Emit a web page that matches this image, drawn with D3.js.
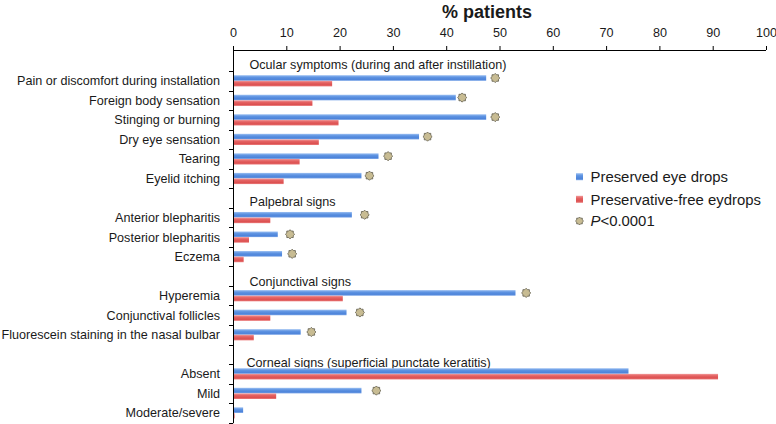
<!DOCTYPE html>
<html>
<head>
<meta charset="utf-8">
<script src="https://cdn.jsdelivr.net/npm/d3@7"></script>
<style>
  html, body { margin: 0; padding: 0; background: #fff; }
  svg { display: block; font-family: "Liberation Sans", Arial, sans-serif; }
</style>
</head>
<body>
<svg id="chart" width="776" height="424"></svg>
<script>
// ---------------- data ----------------
const categories = [
  "Ocular symptoms (during and after instillation)",
  "Pain or discomfort during installation",
  "Foreign body sensation",
  "Stinging or burning",
  "Dry eye sensation",
  "Tearing",
  "Eyelid itching",
  "Palpebral signs",
  "Anterior blepharitis",
  "Posterior blepharitis",
  "Eczema",
  "Conjunctival signs",
  "Hyperemia",
  "Conjunctival follicles",
  "Fluorescein staining in the nasal bulbar",
  "Corneal signs (superficial punctate keratitis)",
  "Absent",
  "Mild",
  "Moderate/severe"
];
const isGroupHeader = [true, false, false, false, false, false, false, true, false, false, false, true, false, false, false, true, false, false, false];
const preserved =        [null, 47.5, 41.8, 47.5, 34.9, 27.3, 24.1, null, 22.3, 8.4, 9.2, null, 53.0, 21.3, 12.7, null, 74.2, 24.1, 1.9];
const preservativeFree = [null, 18.6, 14.9, 19.8, 16.1, 12.5, 9.5,  null, 7.0,  3.0, 2.0, null, 20.6, 7.0,  3.9,  null, 91.0, 8.1,  0.3];
const pMarker =          [null, 49.2, 43.0, 49.2, 36.5, 29.1, 25.6, null, 24.7, 10.7, 11.1, null, 55.0, 23.8, 14.7, null, null, 26.9, null];
const xTicks = [0, 10, 20, 30, 40, 50, 60, 70, 80, 90, 100];
const seriesNames = ["Preserved eye drops", "Preservative-free eydrops"];
const axisTitle = "% patients";

(function () {
// ---------------- layout ----------------
const svg = d3.select("#chart");
const pLeft = 233, pRight = 766, pTop = 50, pBottom = 422.7;
const x = d3.scaleLinear().domain([0, 100]).range([pLeft, pRight]);
const y = d3.scaleBand().domain(d3.range(categories.length)).range([51.5, pBottom]).paddingInner(0).paddingOuter(0);
const textColor = "#1a1a1a";
const fs = 12.6;

// gradients
const defs = svg.append("defs");
function grad(id, stops) {
  const g = defs.append("linearGradient").attr("id", id).attr("x1", 0).attr("y1", 0).attr("x2", 0).attr("y2", 1);
  stops.forEach(s => g.append("stop").attr("offset", s[0]).attr("stop-color", s[1]));
}
grad("gBlue", [[0, "#9cc0f2"], [0.35, "#5f94e2"], [0.75, "#4d84da"], [1, "#7aa5e8"]]);
grad("gRed", [[0, "#f29a9a"], [0.35, "#e46262"], [0.75, "#dc5050"], [1, "#ec8080"]]);

// title
svg.append("text").attr("x", 487).attr("y", 18).attr("text-anchor", "middle")
  .attr("font-size", 18).attr("font-weight", "bold").attr("fill", textColor).text(axisTitle);

// top axis
const xAxis = d3.axisTop(x).tickValues(xTicks).tickSize(4).tickPadding(9).tickSizeOuter(0);
const gx = svg.append("g").attr("transform", `translate(0,${pTop})`).call(xAxis);
gx.select(".domain").attr("stroke", "#000").attr("d", `M${pLeft},0.5H${pRight}`);
gx.selectAll(".tick line").attr("stroke", "#000");
gx.selectAll(".tick text").attr("font-size", fs).attr("fill", textColor).attr("font-family", "Liberation Sans, Arial, sans-serif");

// left axis (band boundary ticks)
const gy = svg.append("g");
gy.append("line").attr("x1", pLeft + 0.5).attr("x2", pLeft + 0.5).attr("y1", pTop).attr("y2", pBottom + 0.5).attr("stroke", "#000");
const bounds = d3.range(1, categories.length + 1).map(i => y.range()[0] + i * y.step());
gy.selectAll("line.tk").data(bounds).join("line").attr("class", "tk")
  .attr("x1", pLeft - 4).attr("x2", pLeft).attr("y1", d => Math.round(d) + 0.5).attr("y2", d => Math.round(d) + 0.5).attr("stroke", "#000");

// category labels
const idx = d3.range(categories.length);
svg.append("g").selectAll("text").data(idx.filter(i => !isGroupHeader[i])).join("text")
  .attr("x", 220).attr("y", i => y(i) + y.bandwidth() / 2).attr("dy", "0.36em")
  .attr("text-anchor", "end").attr("font-size", fs).attr("fill", textColor).text(i => categories[i]);

// group headers inside plot
const headerNudge = [2.7, 3.7, 4.8, 8];
svg.append("g").selectAll("text").data(idx.filter(i => isGroupHeader[i])).join("text")
  .attr("x", (i, k) => k === 3 ? 246.5 : 249.5)
  .attr("y", (i, k) => y(i) + y.bandwidth() / 2 + headerNudge[k]).attr("dy", "0.36em")
  .attr("font-size", fs).attr("fill", textColor).text(i => categories[i]);

// bars
const barH = 5.6;
const bars = svg.append("g");
bars.selectAll("rect.b").data(idx.filter(i => preserved[i] != null)).join("rect").attr("class", "b")
  .attr("x", x(0) + 1).attr("y", i => y(i) + y.bandwidth() / 2 - barH)
  .attr("width", i => Math.max(0, x(preserved[i]) - x(0) - 1)).attr("height", barH)
  .attr("fill", "url(#gBlue)");
bars.selectAll("rect.r").data(idx.filter(i => preservativeFree[i] != null)).join("rect").attr("class", "r")
  .attr("x", x(0) + 1).attr("y", i => y(i) + y.bandwidth() / 2)
  .attr("width", i => Math.max(0.6, x(preservativeFree[i]) - x(0) - 1)).attr("height", barH)
  .attr("fill", "url(#gRed)");

// significance markers (gear-like star)
function starPath(r1, r2, n) {
  const pts = [];
  for (let k = 0; k < 2 * n; k++) {
    const a = Math.PI * k / n - Math.PI / 2;
    const r = k % 2 === 0 ? r1 : r2;
    pts.push([r * Math.cos(a), r * Math.sin(a)]);
  }
  return "M" + pts.map(p => p[0].toFixed(2) + "," + p[1].toFixed(2)).join("L") + "Z";
}
const sp = starPath(4.6, 3.5, 8);
svg.append("g").selectAll("path").data(idx.filter(i => pMarker[i] != null)).join("path")
  .attr("d", sp)
  .attr("transform", i => `translate(${x(pMarker[i])},${y(i) + y.bandwidth() / 2 - barH / 2})`)
  .attr("fill", "#c8bc93").attr("stroke", "#5e5a4a").attr("stroke-width", 0.8);

// legend
const lg = svg.append("g");
const lx = 576, ly = [176.7, 199.3, 221];
lg.append("rect").attr("x", lx).attr("y", ly[0] - 3.5).attr("width", 7).attr("height", 7).attr("fill", "url(#gBlue)");
lg.append("rect").attr("x", lx).attr("y", ly[1] - 3.5).attr("width", 7).attr("height", 7).attr("fill", "url(#gRed)");
lg.append("path").attr("d", starPath(4, 3, 8)).attr("transform", `translate(${lx + 3.5},${ly[2]})`)
  .attr("fill", "#c8bc93").attr("stroke", "#5e5a4a").attr("stroke-width", 0.8);
const lfs = 14.9;
lg.append("text").attr("x", 590.5).attr("y", ly[0]).attr("dy", "0.36em").attr("font-size", lfs).attr("fill", textColor).text(seriesNames[0]);
lg.append("text").attr("x", 590.5).attr("y", ly[1]).attr("dy", "0.36em").attr("font-size", lfs).attr("fill", textColor).text(seriesNames[1]);
const pt = lg.append("text").attr("x", 590.5).attr("y", ly[2]).attr("dy", "0.36em").attr("font-size", lfs).attr("fill", textColor);
pt.append("tspan").attr("font-style", "italic").text("P");
pt.append("tspan").text("<0.0001");
})();
</script>
</body>
</html>
